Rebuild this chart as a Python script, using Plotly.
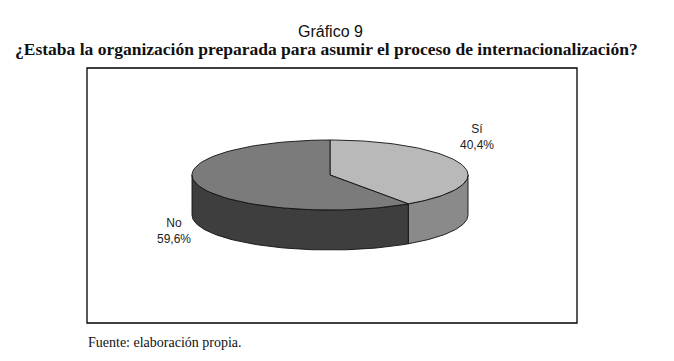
import numpy as np
import plotly.graph_objects as go

# ---- data ----
categories = ["Sí", "No"]
values = [40.4, 59.6]
top_colors = ["#b9b9b9", "#7b7b7b"]
side_colors = ["#8a8a8a", "#3e3e3e"]
title_top = "Gráfico 9"
title_main = "¿Estaba la organización preparada para asumir el proceso de internacionalización?"
source_note = "Fuente: elaboración propia."

# ---- geometry (pixel space) ----
W, H = 674, 361
cx, cy, rx, ry, depth = 330, 175, 138, 35, 40


def arc(t0, t1, n=80):
    t = np.radians(np.linspace(t0, t1, n))
    return cx + rx * np.sin(t), cy - ry * np.cos(t)


fig = go.Figure()

total = sum(values)
angles = []
start = 0.0
for v in values:
    end = start + v / total * 360.0
    angles.append((start, end))
    start = end

# side faces (front half: 90..270 deg clockwise from top)
for (a0, a1), col in zip(angles, side_colors):
    s0, s1 = max(a0, 90), min(a1, 270)
    if s1 <= s0:
        continue
    xs, ys = arc(s0, s1)
    px = np.concatenate([xs, xs[::-1], xs[:1]])
    py = np.concatenate([ys, ys[::-1] + depth, ys[:1]])
    fig.add_trace(go.Scatter(x=px, y=py, fill="toself", fillcolor=col, mode="lines",
                             line=dict(color="#111111", width=0.9), hoverinfo="skip",
                             showlegend=False))

# top faces
for (a0, a1), col in zip(angles, top_colors):
    xs, ys = arc(a0, a1)
    px = np.concatenate([[cx], xs, [cx]])
    py = np.concatenate([[cy], ys, [cy]])
    fig.add_trace(go.Scatter(x=px, y=py, fill="toself", fillcolor=col, mode="lines",
                             line=dict(color="#111111", width=0.9), hoverinfo="skip",
                             showlegend=False))

# data labels
label_pos = [(477, 137), (174, 231)]
for cat, v, (lx, ly) in zip(categories, values, label_pos):
    txt = f"{cat}<br>{v:.1f}%".replace(".", ",")
    fig.add_annotation(x=lx, y=ly, text=txt, showarrow=False, xanchor="center", yanchor="middle",
                       font=dict(family="Liberation Sans, Arial", size=12, color="#222222"))

# titles
fig.add_annotation(x=330, y=31, text=title_top, showarrow=False, xanchor="center", yanchor="middle",
                   font=dict(family="Liberation Sans, Arial", size=16, color="#111111"))
fig.add_annotation(x=326, y=49, text=f"<b>{title_main}</b>", showarrow=False, xanchor="center",
                   yanchor="middle", font=dict(family="Liberation Serif, Times New Roman", size=17.5,
                                               color="#111111"))
fig.add_annotation(x=86, y=342, text=source_note, showarrow=False, xanchor="left", yanchor="middle",
                   font=dict(family="Liberation Serif, Times New Roman", size=14, color="#111111"))

# chart frame
fig.add_shape(type="rect", x0=87, x1=577, y0=68, y1=323, line=dict(color="#000000", width=1.3),
              layer="below")

fig.update_xaxes(range=[0, W], visible=False, fixedrange=True)
fig.update_yaxes(range=[H, 0], visible=False, fixedrange=True)
fig.update_layout(width=W, height=H, margin=dict(l=0, r=0, t=0, b=0),
                  plot_bgcolor="white", paper_bgcolor="white")

fig.write_html("out.html", config={"displayModeBar": False},
               post_script="document.body.style.margin='0';document.body.style.overflow='hidden';")
